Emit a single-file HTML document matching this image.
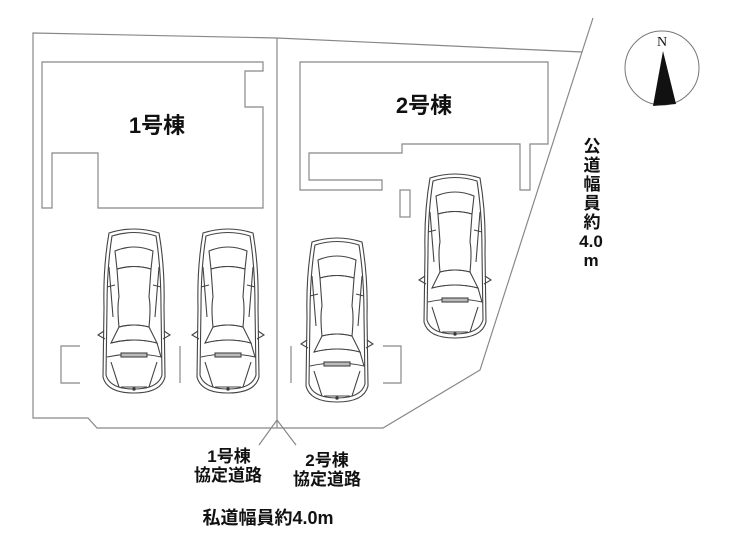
<!DOCTYPE html>
<html><head><meta charset="utf-8"><style>
body{margin:0;background:#fff}
svg{display:block}
text{font-family:"Liberation Sans","Noto Sans CJK JP",sans-serif;font-weight:bold;fill:#111}
</style></head><body>
<svg width="740" height="547" viewBox="0 0 740 547" xmlns="http://www.w3.org/2000/svg">
<defs>
<g id="car" fill="none" stroke="#444" stroke-width="1.1">
<path d="M8,6 Q33,-2 58,6 Q64,40 63,80 L64,150 Q60,166 33,166 Q6,166 2,150 L3,80 Q2,40 8,6Z"/>
<path d="M11,9 Q33,2 55,9 Q60,40 60,80 L61,148 Q57,162 33,162 Q9,162 5,148 L6,80 Q6,40 11,9Z"/>
<path d="M14,24 Q33,16 52,24 L50,42 Q33,37 16,42Z"/>
<path d="M16,42 Q33,37 50,42 L48,70 Q50,80 48,100 Q33,96 18,100 Q16,80 18,70Z"/>
<path d="M18,100 Q33,96 48,100 L56,116 Q33,110 10,116Z"/>
<path d="M10,116 Q33,110 56,116 L60,130 Q33,124 6,130"/>
<rect x="20" y="126" width="26" height="4" fill="#bbb"/>
<path d="M8,40 L12,90 M58,40 L54,90 M6,60 L14,58 M60,60 L52,58 M3,104 L-3,108 L4,112 M63,104 L69,108 L62,112"/>
<path d="M10,135 L18,160 M56,135 L48,160 M20,160 L46,160"/>
<circle cx="33" cy="162" r="1.2" fill="#222"/>
</g>
</defs>
<g fill="none" stroke="#888" stroke-width="1.2">
<path d="M33,33 L277,38 L582,52 L480,370 L383,428 L97,428 L88,418 L33,418 Z"/>
<path d="M277,38 L277,428"/>
<path d="M593,18 L582,52"/>
<path d="M277,420 L259,445 M277,420 L296,445"/>
<path d="M42,62 L263,62 L263,71 L245,71 L245,107 L263,107 L263,208 L98,208 L98,153 L52,153 L52,208 L42,208 Z"/>
<path d="M300,62 L548,62 L548,144 L530,144 L530,190 L520,190 L520,144 L402,144 L402,153 L309,153 L309,180 L382,180 L382,190 L300,190 Z"/>
<rect x="400" y="190" width="10" height="27"/>
<path d="M80,346 L61,346 L61,383 L80,383"/>
<path d="M180,346 L180,383 M291,346 L291,383"/>
<path d="M383,346 L401,346 L401,383 L383,383"/>
</g>
<use href="#car" x="101" y="227"/>
<use href="#car" x="195" y="227"/>
<use href="#car" x="304" y="236"/>
<use href="#car" x="422" y="172"/>
<circle cx="662" cy="68" r="37" fill="none" stroke="#777" stroke-width="1"/>
<path d="M663,51 L653,106 L676,104 Z" fill="#111"/>
<text x="662" y="46" font-size="14" text-anchor="middle" style="font-family:'Liberation Serif',serif;font-weight:normal">N</text>
<text x="157" y="133" font-size="22" text-anchor="middle">1号棟</text>
<text x="424" y="113" font-size="22" text-anchor="middle">2号棟</text>
<g font-size="17" text-anchor="middle">
<text x="592" y="152">公</text><text x="592" y="171">道</text><text x="592" y="190">幅</text><text x="592" y="209">員</text><text x="592" y="228">約</text>
<text x="591" y="247">4.0</text><text x="591" y="266">m</text>
</g>
<g font-size="17" text-anchor="middle">
<text x="229" y="462">1号棟</text><text x="228" y="481">協定道路</text>
<text x="327" y="466">2号棟</text><text x="327" y="485">協定道路</text>
<text x="268" y="524" font-size="18">私道幅員約4.0m</text>
</g>
</svg>
</body></html>
